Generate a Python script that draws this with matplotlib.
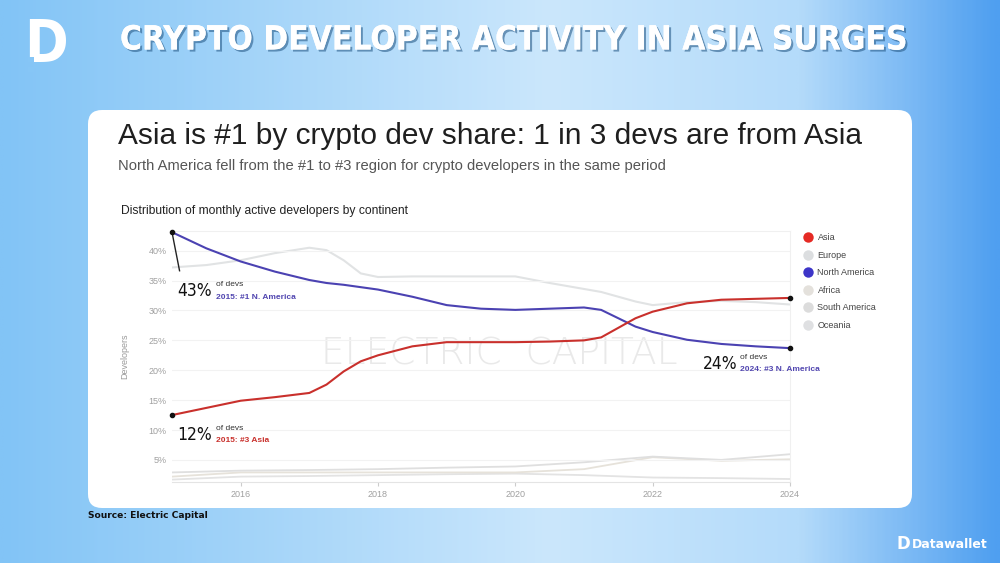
import numpy as np
import matplotlib
matplotlib.use("Agg")
import matplotlib.pyplot as plt
from matplotlib.patches import FancyBboxPatch, Rectangle
from matplotlib.colors import LinearSegmentedColormap
from matplotlib.lines import Line2D
import matplotlib.patheffects as pe

# values (share of monthly active devs, %)
years_fine = [2015.0, 2015.5, 2016.0, 2016.5, 2017.0, 2017.25, 2017.5, 2017.75, 2018.0,
              2018.5, 2019.0, 2019.5, 2020.0, 2020.5, 2021.0, 2021.25, 2021.5, 2021.75,
              2022.0, 2022.5, 2023.0, 2023.5, 2024.0]
asia = [12.5, 13.7, 14.9, 15.5, 16.2, 17.6, 19.8, 21.5, 22.5,
        24.0, 24.7, 24.7, 24.7, 24.8, 25.0, 25.5, 27.1, 28.7,
        29.8, 31.2, 31.8, 31.95, 32.1]
north_america = [43.1, 40.4, 38.2, 36.5, 35.1, 34.6, 34.3, 33.9, 33.5,
                 32.3, 30.9, 30.3, 30.1, 30.3, 30.5, 30.1, 28.7, 27.3,
                 26.4, 25.1, 24.4, 24.0, 23.7]
europe = [37.2, 37.6, 38.4, 39.6, 40.5, 40.1, 38.4, 36.2, 35.6,
          35.7, 35.7, 35.7, 35.7, 34.6, 33.6, 33.1, 32.3, 31.5,
          30.9, 31.4, 31.6, 31.4, 31.0]

years = [2015, 2016, 2017, 2018, 2019, 2020, 2021, 2022, 2023, 2024]
south_america = [2.9, 3.2, 3.3, 3.45, 3.7, 3.9, 4.6, 5.55, 5.0, 5.95]
africa = [2.2, 2.9, 2.9, 2.9, 2.9, 2.9, 3.45, 5.45, 4.85, 5.1]
oceania = [1.7, 2.2, 2.3, 2.45, 2.6, 2.7, 2.45, 2.05, 1.95, 1.8]

legend_names = ["Asia", "Europe", "North America", "Africa", "South America", "Oceania"]
legend_colors = ["#e52a24", "#dcdee0", "#3d35c8", "#e4e1dc", "#dcdcdc", "#dfe0e2"]
yticks = [5, 10, 15, 20, 25, 30, 35, 40]
xticks = [2016, 2018, 2020, 2022, 2024]

SANS = ["Liberation Sans", "DejaVu Sans"]
COND = dict(family="DejaVu Sans", fontstretch="condensed")

fig = plt.figure(figsize=(10, 5.63), dpi=100)

# background gradient + white card, drawn in pixel coords
bg = fig.add_axes([0, 0, 1, 1])
bg.set_xlim(0, 1000)
bg.set_ylim(563, 0)
bg.axis("off")
cmap = LinearSegmentedColormap.from_list(
    "bgblue", [(0, "#82c4f6"), (0.55, "#cbe7fc"), (0.8, "#b4dbfa"), (1, "#4f9ff0")])
grad = np.tile(np.linspace(0, 1, 400), (60, 1))
bg.imshow(grad, cmap=cmap, extent=[0, 1000, 563, 0], aspect="auto", zorder=0)
card = FancyBboxPatch((88, 110), 824, 398, boxstyle="round,pad=0,rounding_size=14",
                      fc="white", ec="none", zorder=1)
bg.add_patch(card)

bg.text(514, 40, "CRYPTO DEVELOPER ACTIVITY IN ASIA SURGES", color="white", fontsize=24,
        fontweight="bold", ha="center", va="center", zorder=3,
        path_effects=[pe.withSimplePatchShadow(offset=(1.5, -1.5), shadow_rgbFace="#2a5d8a", alpha=0.6),
                      pe.Normal()], **COND)
# logo top left
bg.text(46, 45, "D", color="white", fontsize=42, fontweight="bold",
        ha="center", va="center", zorder=3, **COND)
for (px, py) in [(28, 57), (34, 63), (28, 67)]:
    bg.add_patch(Rectangle((px, py), 6, 5, fc="#86c6f6", ec="none", zorder=4))

bg.text(118, 136, "Asia is #1 by crypto dev share: 1 in 3 devs are from Asia", color="#1f1f1f",
        fontsize=21.5, family=SANS, ha="left", va="center", zorder=3)
bg.text(118, 166, "North America fell from the #1 to #3 region for crypto developers in the same period",
        color="#555555", fontsize=10.6, family=SANS, ha="left", va="center", zorder=3)
bg.text(121, 211, "Distribution of monthly active developers by continent", color="#222222",
        fontsize=8.7, family=SANS, ha="left", va="center", zorder=3)
bg.text(88, 516, "Source: Electric Capital", color="#111111", fontsize=6.6, fontweight="bold",
        ha="left", va="center", zorder=3)
bg.text(912, 544, "Datawallet", color="white", fontsize=9, fontweight="bold",
        ha="left", va="center", zorder=3)
bg.text(896, 544, "D", color="white", fontsize=12, fontweight="bold",
        ha="left", va="center", zorder=3)
bg.text(125, 356, "Developers", color="#9a9a9a", fontsize=6.5, rotation=90, family=SANS,
        ha="center", va="center", zorder=3)

# main chart
ax = fig.add_axes([0.172, 1 - 482 / 563, 0.618, (482 - 231) / 563])
ax.set_facecolor("none")
ax.set_xlim(2015, 2024)
ax.set_ylim(1.3, 43.3)

ax.text(2019.77, 22.8, "ELECTRIC  CAPITAL", color="#e9e9e9", fontsize=27, family="DejaVu Sans",
        fontweight="light", ha="center", va="center", zorder=0)

ax.plot(years, oceania, color="#e3e3e3", lw=1.3, zorder=1)
ax.plot(years, africa, color="#e6e2da", lw=1.3, zorder=1)
ax.plot(years, south_america, color="#dfdfdf", lw=1.3, zorder=1)
ax.plot(years_fine, europe, color="#e1e3e4", lw=1.5, zorder=1)
ax.plot(years_fine, north_america, color="#4b42b2", lw=1.5, zorder=2)
ax.plot(years_fine, asia, color="#c9302c", lw=1.5, zorder=3)

# end-point dots
ax.plot([years_fine[0], years_fine[-1]], [north_america[0], north_america[-1]], "o",
        color="#111111", ms=3, zorder=5, clip_on=False)
ax.plot([years_fine[0], years_fine[-1]], [asia[0], asia[-1]], "o",
        color="#111111", ms=3, zorder=5, clip_on=False)
ax.plot([2015.0, 2015.11], [north_america[0], 36.65], color="#222222", lw=1.0, zorder=4)

# annotations
small = dict(fontsize=6, family=SANS, va="center", ha="left")
big = dict(fontsize=12.5, color="#111111", va="center", ha="left", **COND)
ax.text(2015.08, 33.3, "43%", **big)
ax.text(2015.64, 34.3, "of devs", color="#333333", **small)
ax.text(2015.64, 32.2, "2015: #1 N. America", color="#5146b0", fontweight="bold", **small)
ax.text(2015.08, 9.2, "12%", **big)
ax.text(2015.64, 10.2, "of devs", color="#333333", **small)
ax.text(2015.64, 8.3, "2015: #3 Asia", color="#c9302c", fontweight="bold", **small)
ax.text(2022.73, 21.1, "24%", **big)
ax.text(2023.27, 22.1, "of devs", color="#333333", **small)
ax.text(2023.27, 20.1, "2024: #3 N. America", color="#5146b0", fontweight="bold", **small)

ax.set_yticks(yticks)
ax.set_yticklabels([f"{v}%" for v in yticks], family=SANS)
ax.set_xticks(xticks)
ax.set_xticklabels([str(v) for v in xticks], family=SANS)
ax.tick_params(axis="y", length=0, labelsize=6.5, labelcolor="#a0a0a0", pad=4)
ax.tick_params(axis="x", length=3, color="#cccccc", labelsize=6.5, labelcolor="#a0a0a0", pad=3)
ax.grid(axis="y", color="#f2f2f2", lw=0.8, zorder=0)
ax.spines["left"].set_visible(False)
ax.spines["top"].set_color("#f0f0f0")
ax.spines["right"].set_color("#f0f0f0")
ax.spines["bottom"].set_color("#e4e4e4")

handles = [Line2D([], [], marker="o", ls="none", ms=7.5, mfc=c, mec="none") for c in legend_colors]
leg = ax.legend(handles, legend_names, loc="upper left", bbox_to_anchor=(1.016, 1.006), frameon=False,
                labelcolor="#444444", handletextpad=0.55, labelspacing=0.95,
                borderaxespad=0.0, handlelength=1.0, prop={"family": SANS, "size": 6.5})

fig.savefig("out.png", dpi=100)
